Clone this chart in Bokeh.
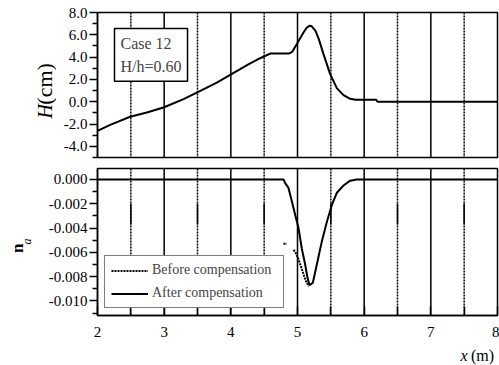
import math
from bokeh.plotting import figure
from bokeh.layouts import column, row
from bokeh.models import (Range1d, FixedTicker, Span, Label, Legend, LegendItem)
from bokeh.core.properties import value
from bokeh.embed import file_html
from bokeh.resources import INLINE

# ---------------- data ----------------
h_x = [2.00, 2.19, 2.49, 2.74, 2.99, 3.29, 3.52, 3.79, 3.99, 4.27, 4.44, 4.52, 4.59,
       4.87, 4.92, 4.99, 5.09, 5.14, 5.18, 5.21, 5.27, 5.32, 5.39, 5.49, 5.59, 5.69,
       5.79, 5.87, 6.18, 6.20, 8.00]
h_y = [-2.61, -2.07, -1.35, -0.97, -0.52, 0.23, 0.91, 1.72, 2.41, 3.37, 3.90, 4.12, 4.32,
       4.32, 4.47, 5.17, 6.21, 6.65, 6.81, 6.78, 6.36, 5.61, 4.27, 2.48, 1.22, 0.59,
       0.26, 0.17, 0.17, 0.00, 0.00]

after_x = [2.00, 4.79, 4.815, 4.865, 4.915, 4.965, 5.015, 5.065, 5.115, 5.15, 5.18,
           5.23, 5.29, 5.365, 5.44, 5.515, 5.59, 5.69, 5.79, 5.89, 8.00]
after_y = [0.0, 0.0, -0.0003, -0.0007, -0.0018, -0.0029, -0.0040, -0.0057, -0.0070,
           -0.0081, -0.0087, -0.0085, -0.0070, -0.0051, -0.0035, -0.0021, -0.0011,
           -0.0005, -0.0001, 0.0, 0.0]

before_x = [4.79, 4.84, float("nan"), 4.94, 4.97, 5.01, 5.06, 5.12, 5.17]
before_y = [-0.0053, -0.0053, float("nan"), -0.0058, -0.0060, -0.0065, -0.0073, -0.0083, -0.0088]

solid_x = [3, 4, 5, 6, 7]
dotted_x = [2.5, 3.5, 4.5, 5.5, 6.5, 7.5]
half_solid_y0 = -0.0020
half_solid_y1 = -0.0037

x_ticks = [2, 3, 4, 5, 6, 7, 8]
x_minor = [2.5, 3.5, 4.5, 5.5, 6.5, 7.5]
x_labels = ["2", "3", "4", "5", "6", "7", "8"]

h_ticks = [-4, -2, 0, 2, 4, 6, 8]
h_minor = [-5, -3, -1, 1, 3, 5, 7]
h_labels = ["-4.0", "-2.0", "0.0", "2.0", "4.0", "6.0", "8.0"]

n_ticks = [0.0, -0.002, -0.004, -0.006, -0.008, -0.010]
n_minor = [-0.001, -0.003, -0.005, -0.007, -0.009, -0.011]
n_labels = ["0.000", "-0.002", "-0.004", "-0.006", "-0.008", "-0.010"]

SERIF = "Liberation Serif"
TICK_FS = "15px"


def style_axis(ax):
    ax.axis_line_color = "black"
    ax.axis_line_width = 1.5
    ax.major_tick_line_color = "black"
    ax.major_tick_line_width = 1.5
    ax.minor_tick_line_color = "black"
    ax.minor_tick_line_width = 1.5
    ax.major_label_text_font = SERIF
    ax.major_label_text_font_size = TICK_FS
    ax.major_label_text_color = "black"


def base_fig(width, height, yr, b_left, b_top, b_bottom):
    p = figure(width=width, height=height, x_range=Range1d(2, 8), y_range=yr,
               output_backend="svg", toolbar_location=None,
               min_border_left=b_left, min_border_right=2,
               min_border_top=b_top, min_border_bottom=b_bottom)
    p.xgrid.visible = False
    p.ygrid.visible = False
    p.outline_line_color = "black"
    p.outline_line_width = 1.5
    p.background_fill_color = "white"
    p.border_fill_color = "white"
    return p


def text_fig(width, height):
    # a blank pixel-space panel (origin bottom-left) that only carries axis-title texts
    p = figure(width=width, height=height, x_range=Range1d(0, width),
               y_range=Range1d(0, height), output_backend="svg",
               toolbar_location=None, x_axis_location=None, y_axis_location=None,
               min_border=0)
    p.xgrid.visible = False
    p.ygrid.visible = False
    p.outline_line_color = None
    p.background_fill_color = "white"
    p.border_fill_color = "white"
    return p


# ---------------- top panel ----------------
TOP_LBL_W = 56
TOP_H = 162
top = base_fig(499 - TOP_LBL_W, TOP_H, Range1d(-5, 8), 97 - TOP_LBL_W, 12, 5)
top.xaxis.visible = False
yax = top.yaxis[0]
style_axis(yax)
yax.ticker = FixedTicker(ticks=h_ticks, minor_ticks=h_minor)
yax.major_label_overrides = {t: l for t, l in zip(h_ticks, h_labels)}
yax.major_tick_in = 0
yax.major_tick_out = 8
yax.minor_tick_in = 0
yax.minor_tick_out = 5
yax.major_label_standoff = 2

for xv in solid_x:
    top.add_layout(Span(location=xv, dimension="height", line_color="black", line_width=1.5))
for xv in dotted_x:
    top.add_layout(Span(location=xv, dimension="height", line_color="black",
                        line_width=1.5, line_dash="2 1"))

top.line(h_x, h_y, line_color="black", line_width=2)

top.add_layout(Label(x=2.255, y=6.565, text="Case 12\nH/h=0.60",
                     text_font=SERIF, text_font_size="16px", text_align="left",
                     text_baseline="top", text_line_height=1.4,
                     border_line_color="black", border_line_width=1.5,
                     background_fill_color="white", padding=6))

top_lbl = text_fig(TOP_LBL_W, TOP_H)
top_lbl.text(x=[44.0], y=[TOP_H - 118.5], text=["H"], angle=math.pi / 2,
             text_font=value(SERIF), text_font_style="italic", text_font_size="20px",
             text_align="left", text_baseline="middle", text_color="black")
top_lbl.text(x=[44.0], y=[TOP_H - 103.0], text=["(cm)"], angle=math.pi / 2,
             text_font=value(SERIF), text_font_size="22px",
             text_align="left", text_baseline="middle", text_color="black")

# ---------------- bottom panel ----------------
BOT_LBL_W = 32
BOT_H = 181
bot = base_fig(499 - BOT_LBL_W, BOT_H, Range1d(-0.0112, 0.0009), 97 - BOT_LBL_W, 6, 28)
bx = bot.xaxis[0]
style_axis(bx)
bx.ticker = FixedTicker(ticks=x_ticks, minor_ticks=x_minor)
bx.major_label_overrides = {t: l for t, l in zip(x_ticks, x_labels)}
bx.major_tick_in = 9
bx.major_tick_out = 0
bx.minor_tick_in = 9
bx.minor_tick_out = 0
bx.major_label_standoff = 11

by = bot.yaxis[0]
style_axis(by)
by.ticker = FixedTicker(ticks=n_ticks, minor_ticks=n_minor)
by.major_label_overrides = {t: l for t, l in zip(n_ticks, n_labels)}
by.major_tick_in = 0
by.major_tick_out = 8
by.minor_tick_in = 0
by.minor_tick_out = 5
by.major_label_standoff = 2

for xv in solid_x:
    bot.add_layout(Span(location=xv, dimension="height", line_color="black", line_width=1.5))
for xv in dotted_x:
    bot.add_layout(Span(location=xv, dimension="height", line_color="black",
                        line_width=1.5, line_dash="2 1"))
bot.segment(x0=dotted_x, y0=[half_solid_y0] * len(dotted_x),
            x1=dotted_x, y1=[half_solid_y1] * len(dotted_x),
            line_color="black", line_width=1.5)

r_after = bot.line(after_x, after_y, line_color="black", line_width=2)
r_before = bot.line(before_x, before_y, line_color="black", line_width=2, line_dash="2 1")

legend = Legend(items=[LegendItem(label="Before compensation", renderers=[r_before]),
                       LegendItem(label="After compensation", renderers=[r_after])],
                location=(7, 7), orientation="vertical",
                border_line_color="black", border_line_width=1.5,
                background_fill_color="white", background_fill_alpha=1.0,
                label_text_font=SERIF, label_text_font_size="14px",
                glyph_width=37, glyph_height=15, label_height=15, label_width=125,
                label_standoff=4, padding=6, spacing=7, margin=0)
bot.add_layout(legend, "center")

# bottom panel occupies window rows 162 .. 343
bot_lbl = text_fig(BOT_LBL_W, BOT_H)
bot_lbl.text(x=[16.5], y=[BOT_H - (266.0 - TOP_H)], text=["n"], angle=math.pi / 2,
             text_font=value(SERIF), text_font_style="bold", text_font_size="17px",
             text_align="left", text_baseline="middle", text_color="black")
bot_lbl.text(x=[26.0], y=[BOT_H - (255.5 - TOP_H)], text=["a"], angle=math.pi / 2,
             text_font=value(SERIF), text_font_style="italic", text_font_size="12px",
             text_align="left", text_baseline="middle", text_color="black")

# ---------------- x-axis title strip (window rows 343 .. 365) ----------------
XL_H = 365 - TOP_H - BOT_H
x_lbl = text_fig(499, XL_H)
x_lbl.text(x=[467.0], y=[10.0], text=["x"], text_font=value(SERIF),
           text_font_style="italic", text_font_size="16px",
           text_align="right", text_baseline="middle", text_color="black")
x_lbl.text(x=[493.5], y=[10.0], text=["(m)"], text_font=value(SERIF),
           text_font_size="16px", text_align="right", text_baseline="middle",
           text_color="black")

layout = column(row(top_lbl, top, spacing=0), row(bot_lbl, bot, spacing=0), x_lbl,
                spacing=0)
open("out.html", "w").write(file_html(layout, INLINE))
